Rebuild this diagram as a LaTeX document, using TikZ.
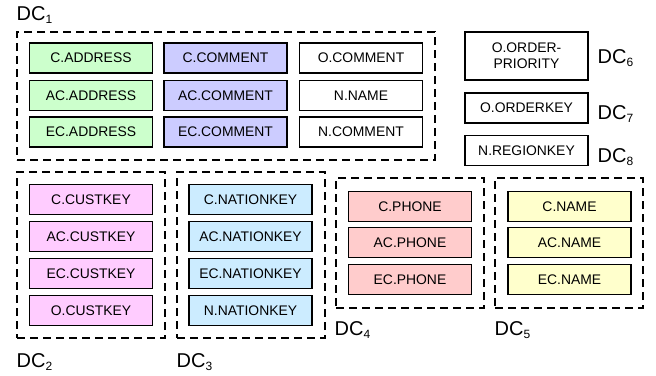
\documentclass[tikz,border=0pt]{standalone}
\usepackage{fontspec}
\setmainfont{Liberation Sans}
\definecolor{cgreen}{HTML}{CCFFCC}
\definecolor{cpurple}{HTML}{CCCCFF}
\definecolor{cpink}{HTML}{FFCCFF}
\definecolor{cblue}{HTML}{CCECFF}
\definecolor{cred}{HTML}{FFCCCC}
\definecolor{cyellow}{HTML}{FFFFCC}
\newcommand{\dclab}[1]{DC\raisebox{-3.5pt}{\fontsize{12}{12}\selectfont #1}}
\begin{document}
\begin{tikzpicture}[x=1pt,y=-1pt,
  attr/.style={draw=black, line width=1.1pt, rectangle, minimum width=123pt, minimum height=30pt, inner sep=0pt, font=\fontsize{13.9}{16}\selectfont, align=center},
  frame/.style={draw=black, line width=1.1pt, dash pattern=on 8pt off 5pt, rectangle, inner sep=0pt},
  dclabel/.style={anchor=base west, inner sep=0pt, font=\fontsize{20}{20}\selectfont}]
\useasboundingbox (0,0) rectangle (656,375);
% frames
\node[frame, minimum width=418pt, minimum height=128pt] (f1) at (226,96) {};
\node[frame, minimum width=148pt, minimum height=166pt] (f2) at (91,255) {};
\node[frame, minimum width=148pt, minimum height=166pt] (f3) at (251,255) {};
\node[frame, minimum width=148pt, minimum height=130pt] (f4) at (410,243) {};
\node[frame, minimum width=148pt, minimum height=130pt] (f5) at (569,243) {};
% DC1
\node[attr, fill=cgreen] (ca) at (91,58) {C.ADDRESS};
\node[attr, fill=cgreen] (aca) at (91,95.5) {AC.ADDRESS};
\node[attr, fill=cgreen] (eca) at (91,132) {EC.ADDRESS};
\node[attr, fill=cpurple] (cc) at (225.5,58) {C.COMMENT};
\node[attr, fill=cpurple] (acc) at (225.5,95.5) {AC.COMMENT};
\node[attr, fill=cpurple] (ecc) at (225.5,132) {EC.COMMENT};
\node[attr, fill=white] (oc) at (361,58) {O.COMMENT};
\node[attr, fill=white] (nn) at (361,95.5) {N.NAME};
\node[attr, fill=white] (nc) at (361,132) {N.COMMENT};
% DC2
\node[attr, fill=cpink] (ck) at (91,199.5) {C.CUSTKEY};
\node[attr, fill=cpink] (ack) at (91,236.5) {AC.CUSTKEY};
\node[attr, fill=cpink] (eck) at (91,273.5) {EC.CUSTKEY};
\node[attr, fill=cpink] (ok) at (91,310.5) {O.CUSTKEY};
% DC3
\node[attr, fill=cblue] (cn) at (250.5,199.5) {C.NATIONKEY};
\node[attr, fill=cblue] (acn) at (250.5,236.5) {AC.NATIONKEY};
\node[attr, fill=cblue] (ecn) at (250.5,273.5) {EC.NATIONKEY};
\node[attr, fill=cblue] (nnk) at (250.5,310.5) {N.NATIONKEY};
% DC4
\node[attr, fill=cred] (cp) at (410,206.5) {C.PHONE};
\node[attr, fill=cred] (acp) at (410,242.5) {AC.PHONE};
\node[attr, fill=cred] (ecp) at (410,279.5) {EC.PHONE};
% DC5
\node[attr, fill=cyellow] (cnm) at (569.5,206.5) {C.NAME};
\node[attr, fill=cyellow] (acnm) at (569.5,242.5) {AC.NAME};
\node[attr, fill=cyellow] (ecnm) at (569.5,279.5) {EC.NAME};
% right singles
\node[attr, fill=white, minimum height=48pt] (op) at (526.5,56) {O.ORDER-\\PRIORITY};
\node[attr, fill=white] (ook) at (526.5,108) {O.ORDERKEY};
\node[attr, fill=white] (nrk) at (526.5,150.5) {N.REGIONKEY};
% labels
\node[dclabel] (l1) at (16.5,20) {\dclab{1}};
\node[dclabel] (l2) at (16.5,367) {\dclab{2}};
\node[dclabel] (l3) at (176.5,367) {\dclab{3}};
\node[dclabel] (l4) at (334.5,335) {\dclab{4}};
\node[dclabel] (l5) at (494.5,335) {\dclab{5}};
\node[dclabel] (l6) at (597.5,63) {\dclab{6}};
\node[dclabel] (l7) at (597.5,119) {\dclab{7}};
\node[dclabel] (l8) at (597.5,162) {\dclab{8}};
\end{tikzpicture}
\end{document}
